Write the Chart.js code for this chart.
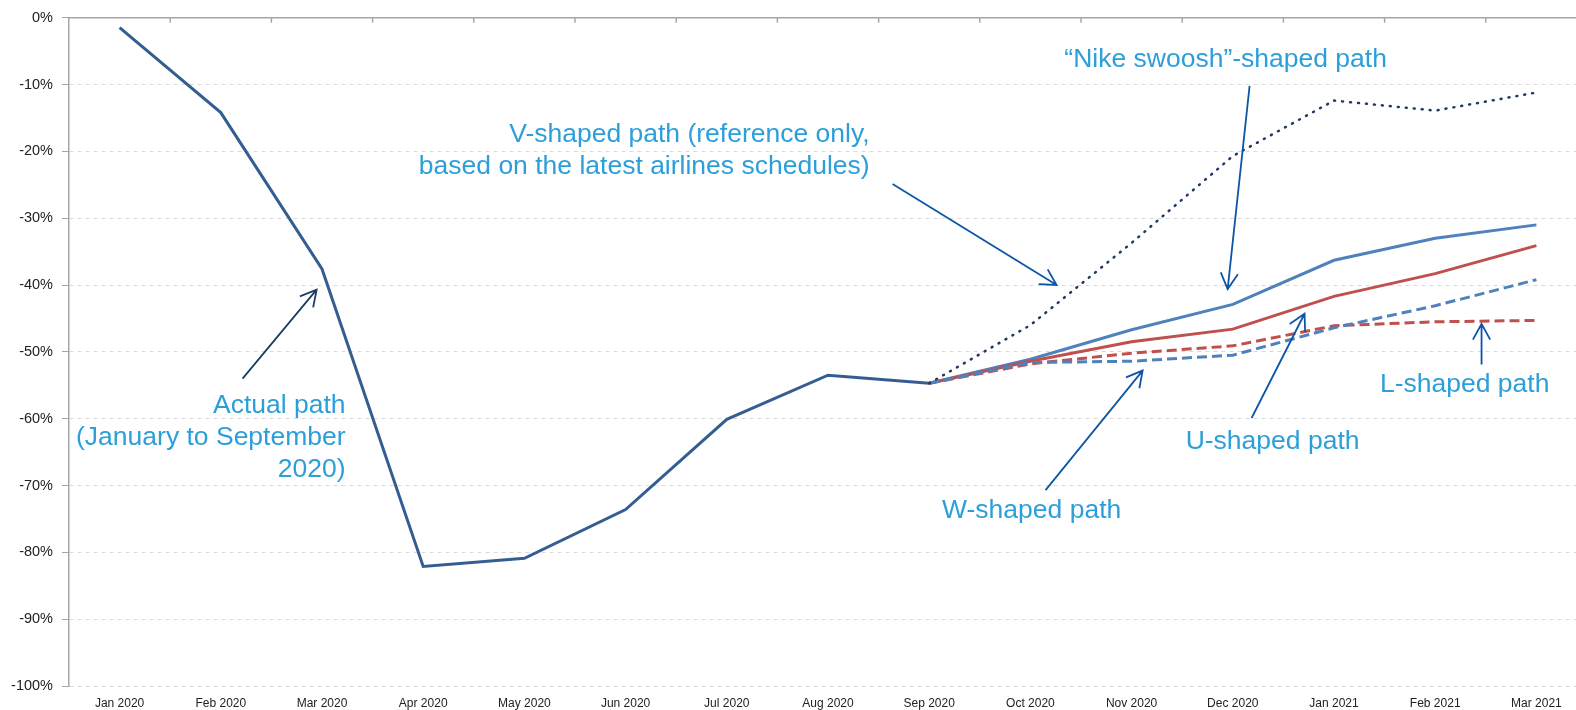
<!DOCTYPE html>
<html>
<head>
<meta charset="utf-8">
<script src="https://cdn.jsdelivr.net/npm/chart.js@4"></script>
<style>
  html, body { margin: 0; padding: 0; background: #fff; overflow: hidden; }
  #wrap { width: 1590px; height: 710px; }
</style>
</head>
<body>
<div id="wrap"><canvas id="pathChart" width="1590" height="710"></canvas></div>
<script>
const months = ["Jan 2020", "Feb 2020", "Mar 2020", "Apr 2020", "May 2020", "Jun 2020", "Jul 2020", "Aug 2020",
  "Sep 2020", "Oct 2020", "Nov 2020", "Dec 2020", "Jan 2021", "Feb 2021", "Mar 2021"];

// % change vs. 2019
const actualPath = [-1.5, -14.2, -37.6, -82.1, -80.9, -73.6, -60.1, -53.5, -54.7, null, null, null, null, null, null];
const vShaped = [null, null, null, null, null, null, null, null, -54.7, -46.0, -33.7, -20.7, -12.4, -13.9, -11.2];
const swooshShaped = [null, null, null, null, null, null, null, null, -54.7, -51.1, -46.7, -42.9, -36.3, -33.0, -31.0];
const uShaped = [null, null, null, null, null, null, null, null, -54.7, -51.4, -48.5, -46.6, -41.7, -38.3, -34.1];
const lShaped = [null, null, null, null, null, null, null, null, -54.7, -51.8, -50.2, -49.1, -46.1, -45.5, -45.3];
const wShaped = [null, null, null, null, null, null, null, null, -54.7, -51.6, -51.4, -50.5, -46.4, -43.1, -39.2];

const yTicks = [0, -10, -20, -30, -40, -50, -60, -70, -80, -90, -100];

// callouts: [category index, value] positions
const notes = [
  { lines: ["Actual path", "(January to September", "2020)"], at: [2.233, -58.0], align: "right",
    from: [1.215, -54.0], to: [1.947, -40.7], arrow: "#1b3f63" },
  { lines: ["V-shaped path (reference only,", "based on the latest airlines schedules)"], at: [7.411, -17.5], align: "right",
    from: [7.638, -24.9], to: [9.259, -40.0], arrow: "#0d56a6" },
  { lines: ["\u201cNike swoosh\u201d-shaped path"], at: [10.929, -6.3], align: "center",
    from: [11.166, -10.2], to: [10.949, -40.6], arrow: "#0d56a6" },
  { lines: ["W-shaped path"], at: [9.012, -73.8], align: "center",
    from: [9.15, -70.7], to: [10.109, -52.8], arrow: "#0d56a6" },
  { lines: ["U-shaped path"], at: [11.393, -63.4], align: "center",
    from: [11.186, -59.9], to: [11.709, -44.3], arrow: "#0d56a6" },
  { lines: ["L-shaped path"], at: [13.291, -54.9], align: "center",
    from: [13.458, -51.9], to: [13.458, -45.8], arrow: "#0d56a6" },
];

const axisGray = "#a6a6a6";

const frameAndNotes = {
  id: "frameAndNotes",
  beforeDatasetsDraw(chart) {
    const { ctx, chartArea } = chart;
    const x = chart.scales.x;
    ctx.save();
    // solid zero line at the top with category tick marks
    ctx.strokeStyle = axisGray;
    ctx.lineWidth = 1.5;
    ctx.beginPath();
    ctx.moveTo(chartArea.left, chartArea.top);
    ctx.lineTo(chartArea.right, chartArea.top);
    const half = (x.getPixelForValue(1) - x.getPixelForValue(0)) / 2;
    for (let i = 0; i < months.length; i++) {
      const px = x.getPixelForValue(i) + half;
      ctx.moveTo(px, chartArea.top);
      ctx.lineTo(px, chartArea.top + 5);
    }
    ctx.stroke();
    ctx.restore();
  },
  afterDatasetsDraw(chart) {
    const { ctx } = chart;
    const x = chart.scales.x, y = chart.scales.y;
    const pt = (p) => [x.getPixelForValue(p[0]), y.getPixelForValue(p[1])];
    ctx.save();
    notes.forEach((n) => {
      const [tx, ty] = pt(n.at);
      ctx.fillStyle = "#2c9fda";
      ctx.font = "26.5px 'Liberation Sans', Arial, sans-serif";
      ctx.textAlign = n.align;
      ctx.textBaseline = "middle";
      n.lines.forEach((l, i) => ctx.fillText(l, tx, ty + i * 32));

      const [x1, y1] = pt(n.from);
      const [x2, y2] = pt(n.to);
      ctx.strokeStyle = n.arrow;
      ctx.lineWidth = 1.8;
      ctx.beginPath();
      ctx.moveTo(x1, y1);
      ctx.lineTo(x2, y2);
      const ang = Math.atan2(y2 - y1, x2 - x1);
      const len = 18, spread = 0.5;
      ctx.moveTo(x2 - len * Math.cos(ang - spread), y2 - len * Math.sin(ang - spread));
      ctx.lineTo(x2, y2);
      ctx.lineTo(x2 - len * Math.cos(ang + spread), y2 - len * Math.sin(ang + spread));
      ctx.stroke();
    });
    ctx.restore();
  },
};

function series(label, data, color, extra) {
  return Object.assign({
    label, data, borderColor: color, backgroundColor: color,
    borderWidth: 3, pointRadius: 0, tension: 0, fill: false, spanGaps: false,
  }, extra || {});
}

const ctx = document.getElementById("pathChart").getContext("2d");
new Chart(ctx, {
  type: "line",
  data: {
    labels: months,
    datasets: [
      series("V-shaped", vShaped, "#1f3864", { borderWidth: 2.5, borderDash: [1, 7], borderCapStyle: "round" }),
      series("W-shaped", wShaped, "#4f81bd", { borderDash: [10, 5] }),
      series("L-shaped", lShaped, "#c0504d", { borderDash: [10, 5] }),
      series("U-shaped", uShaped, "#c0504d"),
      series("Nike swoosh", swooshShaped, "#4f81bd"),
      series("Actual", actualPath, "#345e92"),
    ],
  },
  options: {
    responsive: false,
    animation: false,
    layout: { padding: { top: 15, right: 3, left: 0, bottom: 0 } },
    plugins: {
      legend: { display: false },
      title: { display: false },
      tooltip: { enabled: false },
    },
    scales: {
      x: {
        offset: true,
        grid: { display: false, drawTicks: false },
        border: { display: false },
        ticks: {
          color: "#222",
          font: { family: "'Liberation Sans', Arial, sans-serif", size: 12 },
          padding: 10, maxRotation: 0, autoSkip: false,
        },
        afterFit(scale) { scale.height = 24; },
      },
      y: {
        min: -100, max: 0,
        afterBuildTicks(scale) { scale.ticks = yTicks.map((v) => ({ value: v })); },
        grid: {
          color: (c) => (c.tick && c.tick.value === 0 ? "rgba(0,0,0,0)" : "#d9d9d9"),
          lineWidth: 1, tickLength: 7, tickColor: axisGray,
        },
        border: { display: true, color: axisGray, width: 1.5, dash: [4, 4] },
        ticks: {
          color: "#222",
          font: { family: "'Liberation Sans', Arial, sans-serif", size: 14.5 },
          padding: 9,
          callback: (v) => v + "%",
        },
        afterFit(scale) { scale.width = 69; },
      },
    },
  },
  plugins: [frameAndNotes],
});
</script>
</body>
</html>
